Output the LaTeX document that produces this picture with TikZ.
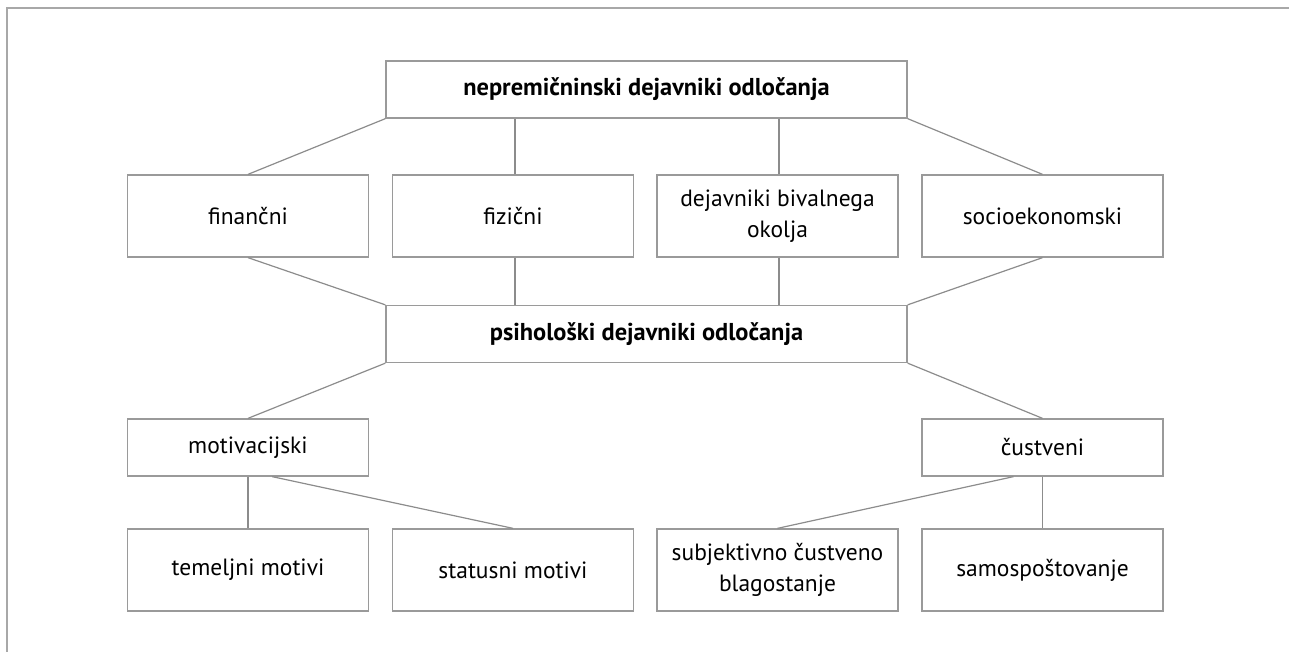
\documentclass[tikz,border=0pt]{standalone}
\usepackage{fontspec}
\setmainfont{PT Sans}
\usetikzlibrary{calc}
\definecolor{boxgray}{HTML}{9A9A9A}
\definecolor{linegray}{HTML}{8C8C8C}
\definecolor{framegray}{HTML}{A8A8A8}
\tikzset{
  box/.style={draw=boxgray, line width=1.3pt, minimum width=241pt, minimum height=#1, inner sep=0pt, align=center, font=\fontsize{23.5}{30.5}\selectfont, text=black},
  box/.default=82pt,
  wide/.style={draw=boxgray, line width=1.3pt, minimum width=521pt, minimum height=57pt, inner sep=0pt, font=\bfseries\fontsize{24.4}{30}\selectfont, text=black},
  conn/.style={draw=linegray, line width=1.2pt},
  frame/.style={draw=framegray, line width=2.4pt}
}
\begin{document}
\begin{tikzpicture}[x=1pt,y=-1pt]
\useasboundingbox (0,0) rectangle (1289,652);
\coordinate (fa) at (7,8);
\coordinate (fb) at (1289,8);
\coordinate (fc) at (7,652);
\draw[frame] (fb) -- (fa) -- (fc);
% top
\node[wide] (top) at (646.5,89.5) {nepremičninski dejavniki odločanja};
\node[box] (fin) at (248,216) {finančni};
\node[box] (fiz) at (513,216) {fizični};
\node[box] (dej) at (777.5,216) {dejavniki bivalnega\\okolja};
\node[box] (soc) at (1042.5,216) {socioekonomski};
\node[wide] (psi) at (646.5,334) {psihološki dejavniki odločanja};
\node[box=57pt] (mot) at (248,447.5) {motivacijski};
\node[box=57pt] (cus) at (1042.5,447.5) {čustveni};
\node[box] (tem) at (248,570) {temeljni motivi};
\node[box] (sta) at (513,570) {statusni motivi};
\node[box] (sub) at (777.5,570) {subjektivno čustveno\\blagostanje};
\node[box] (sam) at (1042.5,570) {samospoštovanje};
% anchor points for vertical connectors
\coordinate (fizn) at ($(fiz.north)+(2,0)$);
\coordinate (fizs) at ($(fiz.south)+(2,0)$);
\coordinate (dejn) at ($(dej.north)+(1.5,0)$);
\coordinate (dejs) at ($(dej.south)+(1.5,0)$);
\coordinate (mots) at ($(mot.south west)!0.6!(mot.south east)$);
\coordinate (cuss) at ($(cus.south west)!0.38!(cus.south east)$);
% connectors
\draw[conn] (top.south west) -- (fin.north);
\draw[conn] (fizn) -- (fizn |- top.south);
\draw[conn] (dejn) -- (dejn |- top.south);
\draw[conn] (top.south east) -- (soc.north);
\draw[conn] (fin.south) -- (psi.north west);
\draw[conn] (fizs) -- (fizs |- psi.north);
\draw[conn] (dejs) -- (dejs |- psi.north);
\draw[conn] (soc.south) -- (psi.north east);
\draw[conn] (psi.south west) -- (mot.north);
\draw[conn] (psi.south east) -- (cus.north);
\draw[conn] (mot.south) -- (tem.north);
\draw[conn] (mots) -- (sta.north);
\draw[conn] (cuss) -- (sub.north);
\draw[conn] (cus.south) -- (sam.north);
\end{tikzpicture}
\end{document}
